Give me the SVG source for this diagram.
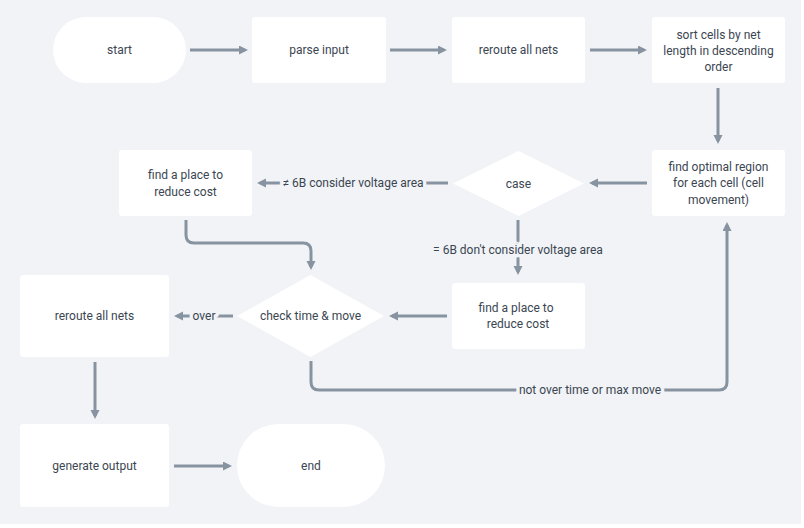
<svg xmlns="http://www.w3.org/2000/svg" width="804" height="528" viewBox="0 0 804 528">
<defs>
<style>
.n{fill:#ffffff;}
.t{font-family:Roboto,"Noto Sans","DejaVu Sans",sans-serif;font-size:12px;fill:#3b4652;text-anchor:middle;}
.l{stroke:#f1f3f6;stroke-width:7;stroke-linejoin:round;paint-order:stroke;}
.e{fill:none;stroke:#8793a0;stroke-width:3;}
.a{marker-end:url(#ah);}
</style>
<marker id="ah" markerUnits="userSpaceOnUse" markerWidth="10" markerHeight="10" refX="6" refY="4.5" orient="auto">
<path d="M0,0 L9,4.5 L0,9 z" fill="#8793a0"/>
</marker>
</defs>
<rect x="0" y="0" width="804" height="528" fill="#ffffff"/>
<rect x="0" y="0" width="801" height="524" fill="#f1f3f6"/>
<g id="connectors">
<path class="e a" d="M190 50 H245"/>
<path class="e a" d="M390 50 H444"/>
<path class="e a" d="M590 50 H644"/>
<path class="e a" d="M718 88 V141"/>
<path class="e a" d="M647 183 H592"/>
<path class="e a" d="M448 183 H260"/>
<path class="e a" d="M186 220 V235 Q186 243 194 243 H303 Q311 243 311 251 V267"/>
<path class="e a" d="M518 220 V272"/>
<path class="e a" d="M447 316 H392"/>
<path class="e a" d="M233 316 H177"/>
<path class="e a" d="M95 362 V416"/>
<path class="e a" d="M174 466 H229"/>
<path class="e a" d="M311 361 V382 Q311 390 319 390 H719 Q727 390 727 382 V225"/>
<text class="t l" x="353" y="187">≠ 6B consider voltage area</text>
<text class="t l" x="518" y="254">= 6B don't consider voltage area</text>
<text class="t l" x="204" y="320">over</text>
<text class="t l" x="590" y="394">not over time or max move</text>
</g>
<g id="start"><rect class="n" x="53" y="17" width="133" height="66" rx="33"/><text class="t" x="119.5" y="54">start</text></g>
<g id="parse"><rect class="n" x="252" y="17" width="134" height="66" rx="3"/><text class="t" x="319" y="54">parse input</text></g>
<g id="reroute1"><rect class="n" x="452" y="17" width="133" height="66" rx="3"/><text class="t" x="518.5" y="54">reroute all nets</text></g>
<g id="sort"><rect class="n" x="652" y="17" width="133" height="66" rx="3"/><text class="t" x="718.5" y="39">sort cells by net</text><text class="t" x="718.5" y="55">length in descending</text><text class="t" x="718.5" y="71">order</text></g>
<g id="optimal"><rect class="n" x="652" y="150" width="133" height="66" rx="3"/><text class="t" x="718.5" y="171">find optimal region</text><text class="t" x="718.5" y="187">for each cell (cell</text><text class="t" x="718.5" y="204">movement)</text></g>
<g id="case"><polygon class="n" points="518.5,151 584,183.5 518.5,216 453,183.5"/><text class="t" x="518.5" y="187.5">case</text></g>
<g id="find1"><rect class="n" x="119" y="150" width="133" height="66" rx="3"/><text class="t" x="185.5" y="179">find a place to</text><text class="t" x="185.5" y="196">reduce cost</text></g>
<g id="find2"><rect class="n" x="452" y="283" width="133" height="66" rx="3"/><text class="t" x="516" y="312">find a place to</text><text class="t" x="518" y="328">reduce cost</text></g>
<g id="check"><polygon class="n" points="310.5,275 384,316 310.5,357 237,316"/><text class="t" x="310.5" y="320">check time &amp; move</text></g>
<g id="reroute2"><rect class="n" x="20" y="275" width="149" height="82" rx="3"/><text class="t" x="94.5" y="320">reroute all nets</text></g>
<g id="generate"><rect class="n" x="20" y="424" width="149" height="83" rx="3"/><text class="t" x="94.5" y="470">generate output</text></g>
<g id="end"><rect class="n" x="237" y="424" width="148" height="83" rx="41.5"/><text class="t" x="311" y="470">end</text></g>
</svg>
